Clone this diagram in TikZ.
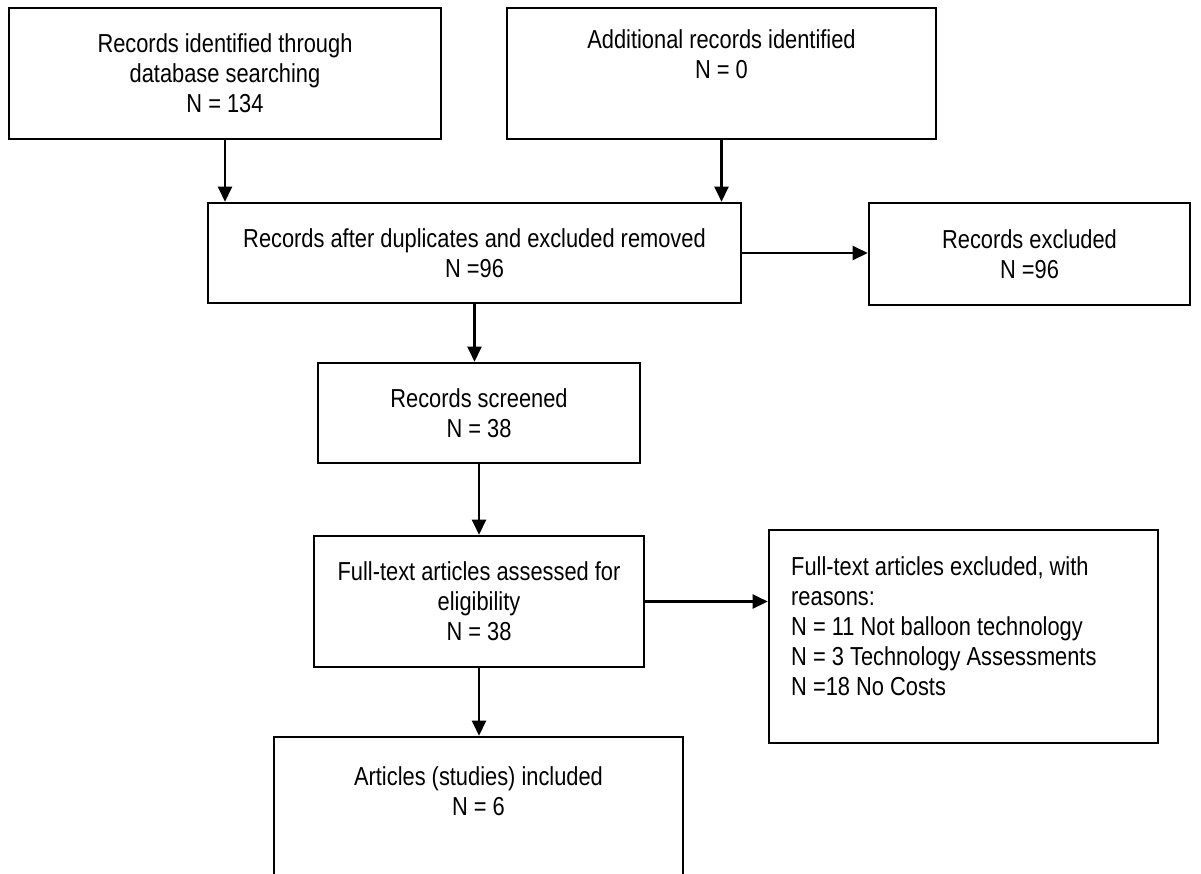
\documentclass[tikz,border=0pt]{standalone}
\usepackage{fontspec}
\setmainfont{Liberation Sans}[FakeStretch=0.84]
\usetikzlibrary{arrows.meta}
\begin{document}
\begin{tikzpicture}[x=1pt,y=-1pt,
  box/.style={draw, line width=2.6pt, inner sep=0pt, align=center,
    font=\fontsize{26}{30}\selectfont},
  txt/.style={inner sep=0pt, font=\fontsize{26}{30}\selectfont},
  arr/.style={line width=2.4pt, -{Triangle[length=15pt,width=14pt]}}]
\useasboundingbox (0,0) rectangle (1201,873);
\clip (0,0) rectangle (1201,873);

\node[box, minimum width=432pt, minimum height=131pt] (b1) at (225,73.5)
  {Records identified through\\database searching\\N = 134};
\node[box, minimum width=429pt, minimum height=131pt] (b2) at (721.5,73.5)
  {Additional records identified\\N = 0\\\strut};
\node[box, minimum width=533pt, minimum height=100pt] (b3) at (474.5,253)
  {Records after duplicates and excluded removed\\N =96};
\node[box, minimum width=321pt, minimum height=102pt] (b4) at (1029.5,254)
  {Records excluded\\N =96};
\node[box, minimum width=322pt, minimum height=100pt] (b5) at (479,413)
  {Records screened\\N = 38};
\node[box, minimum width=330pt, minimum height=131pt] (b6) at (479,601.5)
  {Full-text articles assessed for\\eligibility\\N = 38};
\node[box, minimum width=389pt, minimum height=213pt] (b7) at (963.5,636.5) {};
\node[txt, anchor=north west, align=left] (b7t) at (791,556)
  {Full-text articles excluded, with\\reasons:\\N = 11 Not balloon technology\\N = 3 Technology Assessments\\N =18 No Costs};
\node[box, minimum width=409pt, minimum height=182pt] (b8) at (478.5,828) {};
\node[txt, anchor=north, align=center] (b8t) at (478.5,766)
  {Articles (studies) included\\N = 6};

\draw[arr] (b1.south) -- (b1.south |- b3.north);
\draw[arr] (b2.south) -- (b2.south |- b3.north);
\draw[arr] (b3.east) -- (b3.east -| b4.west);
\draw[arr] (b3.south) -- (b3.south |- b5.north);
\draw[arr] (b5.south) -- (b6.north);
\draw[arr] (b6.east) -- (b6.east -| b7.west);
\draw[arr] (b6.south) -- (b6.south |- b8.north);
\end{tikzpicture}
\end{document}
